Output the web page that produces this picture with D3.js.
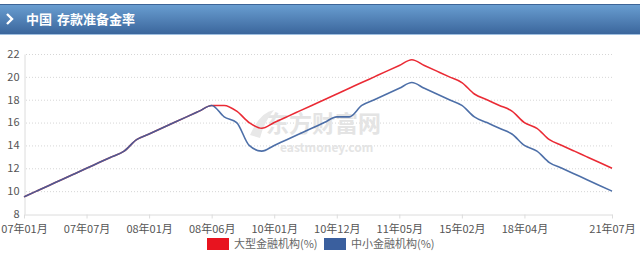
<!DOCTYPE html>
<html>
<head>
<meta charset="utf-8">
<script src="https://cdn.jsdelivr.net/npm/d3@7"></script>
<style>
  body { margin: 0; background: #fff; font-family: "Noto Sans CJK SC", "Noto Sans", sans-serif; }
  svg text { font-family: "Noto Sans CJK SC", "Noto Sans", sans-serif; }
</style>
</head>
<body>
<div id="chart"></div>
<script>
// announcement months of each RRR change (category axis)
var dates = ['07-01','07-02','07-04','07-04','07-05','07-07','07-09','07-10','07-11','07-12',
             '08-01','08-03','08-04','08-05','08-06','08-06','08-09','08-10','08-11','08-12',
             '10-01','10-02','10-05','10-11','10-11','10-12','11-01','11-02','11-03','11-04',
             '11-05','11-06','11-11','12-02','12-05','15-02','15-04','15-08','15-10','16-02',
             '18-04','18-06','18-10','19-01','19-01','19-09','20-01','21-07'];

var large = [9.5,10,10.5,11,11.5,12,12.5,13,13.5,14.5,
             15,15.5,16,16.5,17,17.5,17.5,17,16,15.5,
             16,16.5,17,17.5,18,18.5,19,19.5,20,20.5,
             21,21.5,21,20.5,20,19.5,18.5,18,17.5,17,
             16,15.5,14.5,14,13.5,13,12.5,12];

var small = [9.5,10,10.5,11,11.5,12,12.5,13,13.5,14.5,
             15,15.5,16,16.5,17,17.5,16.5,16,14,13.5,
             14,14.5,15,15.5,16,16.5,16.5,17.5,18,18.5,
             19,19.5,19,18.5,18,17.5,16.5,16,15.5,15,
             14,13.5,12.5,12,11.5,11,10.5,10];

var tickIdx = [0,5,10,15,20,25,30,35,40,47];
var yTicks = [8,10,12,14,16,18,20,22];
var seriesNames = ['大型金融机构(%)','中小金融机构(%)'];
var colors = ['#e8141f','#3a5f9e'];

var w = 640, h = 258;
var svg = d3.select('#chart').append('svg').attr('width', w).attr('height', h);

// header bar
var defs = svg.append('defs');
var grad = defs.append('linearGradient').attr('id','hdr').attr('x1',0).attr('y1',0).attr('x2',0).attr('y2',1);
grad.append('stop').attr('offset','0%').attr('stop-color','#6a9fd2');
grad.append('stop').attr('offset','100%').attr('stop-color','#3b669c');
svg.append('rect').attr('x',0).attr('y',4).attr('width',w).attr('height',30).attr('fill','url(#hdr)');
svg.append('rect').attr('x',0).attr('y',4).attr('width',w).attr('height',1).attr('fill','#3d6597');
svg.append('rect').attr('x',0).attr('y',34).attr('width',w).attr('height',1).attr('fill','#9fbfe0');
svg.append('path').attr('d','M7,14 L12,19 L7,24').attr('fill','none')
    .attr('stroke','#fff').attr('stroke-width',2.4);
svg.append('text').attr('x',26).attr('y',24).attr('fill','#fff')
    .style('font-size','13px').style('font-weight','bold').text('中国');
svg.append('text').attr('x',57).attr('y',24).attr('fill','#fff')
    .style('font-size','13px').style('font-weight','bold').text('存款准备金率');

var xScale = d3.scaleLinear().domain([0, dates.length-1]).range([24, 612]);
var yScale = d3.scaleLinear().domain([8, 22]).range([214, 54]);

// grid
svg.selectAll('.grid').data(yTicks.slice(1)).enter().append('line')
    .attr('x1',26).attr('x2',612)
    .attr('y1',function(d){ return yScale(d)+0.5; })
    .attr('y2',function(d){ return yScale(d)+0.5; })
    .attr('stroke','#d6d6d6').attr('stroke-width',1).attr('stroke-dasharray','1,2');

// watermark
svg.append('text').attr('x',266).attr('y',132).attr('fill','#e4e4e4')
    .style('font-size','23px').style('font-weight','bold').text('东方财富网');
svg.append('text').attr('x',280).attr('y',152).attr('fill','#e4e4e4')
    .style('font-size','12px').style('font-weight','bold').text('eastmoney.com');
svg.append('path').attr('d','M250,135 Q260,112 274,110 Q264,122 260,138 Z').attr('fill','#e8e8e8');

// axes
var yAxis = d3.axisLeft(yScale).tickValues(yTicks).tickSize(0).tickPadding(5);
var gy = svg.append('g').attr('transform','translate(24.5,0)').call(yAxis);
gy.select('.domain').attr('stroke','#dcdcdc');
gy.selectAll('text').attr('fill','#555').style('font-size','11px').attr('dy','0.3em');

var xAxis = d3.axisBottom(xScale).tickValues(tickIdx).tickSize(4).tickSizeOuter(0)
    .tickFormat(function(i){ var p = dates[i].split('-'); return p[0]+'年'+p[1]+'月'; });
var gx = svg.append('g').attr('transform','translate(0,214.5)').call(xAxis);
gx.select('.domain').attr('stroke','#dcdcdc');
gx.selectAll('line').attr('stroke','#dcdcdc');
gx.selectAll('text').attr('fill','#555').style('font-size','11px').attr('dy','1em');

// lines
var line = d3.line()
    .x(function(d,i){ return xScale(i); })
    .y(function(d){ return yScale(d); })
    .curve(d3.curveMonotoneX);

[large, small].forEach(function(s,k){
    svg.append('path').datum(s).attr('d', line)
        .attr('fill','none').attr('stroke', colors[k]).attr('stroke-width',1.6)
        .attr('stroke-opacity',0.9);
});

// legend
var legX = [207, 324];
seriesNames.forEach(function(n,k){
    svg.append('rect').attr('x',legX[k]).attr('y',238).attr('width',22).attr('height',12).attr('fill',colors[k]);
    svg.append('text').attr('x',legX[k]+27).attr('y',248).attr('fill','#666')
        .style('font-size','11px').text(n);
});
</script>
</body>
</html>
